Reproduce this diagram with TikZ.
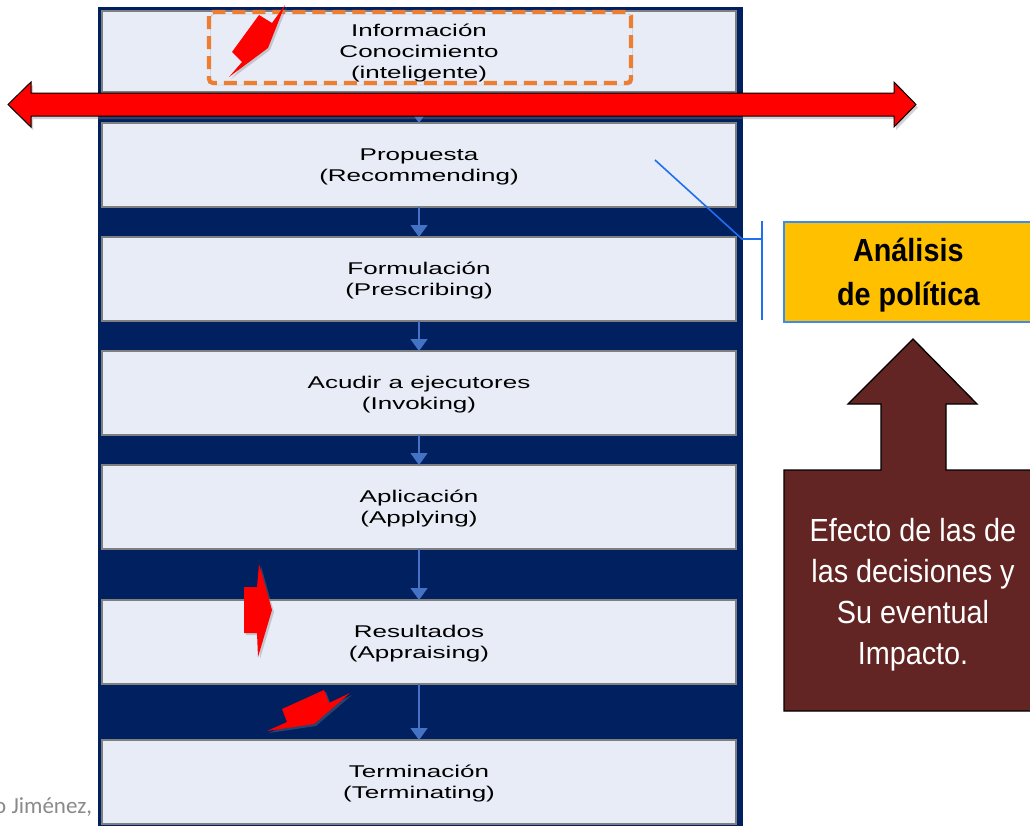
\documentclass[tikz,border=0pt]{standalone}
\usepackage{fontspec}
\setmainfont{Liberation Sans}
\newfontfamily\boxfont[FakeStretch=1.53]{Liberation Sans}
\newfontfamily\narrowfont[FakeStretch=0.9]{Liberation Sans}
\newfontfamily\footfont{Carlito}
\usetikzlibrary{arrows.meta,shadows}
\definecolor{navy}{HTML}{002060}
\definecolor{boxfill}{HTML}{E7ECF6}
\definecolor{boxgray}{HTML}{7F7F7F}
\definecolor{connblue}{HTML}{4472C4}
\definecolor{orangeD}{HTML}{ED7D31}
\definecolor{callblue}{HTML}{1F6FF0}
\definecolor{anaborder}{HTML}{3A8CF5}
\definecolor{gold}{HTML}{FFC000}
\definecolor{brownD}{HTML}{632523}
\definecolor{footgray}{HTML}{8A8A8A}
\begin{document}
\begin{tikzpicture}[x=1pt,y=-1pt,
  stage/.style={draw=boxgray, line width=1.2pt, fill=boxfill, minimum width=634pt,
    inner sep=0pt, outer sep=0pt, anchor=north west, align=center, text=black,
    text depth=0pt, font=\boxfont\fontsize{17}{21}\selectfont},
  conn/.style={draw=connblue, line width=1.3pt, -{Triangle[width=17pt,length=12pt]}},
  bolt/.style={fill=red, drop shadow={opacity=0.35, shadow xshift=2pt, shadow yshift=-2pt}},
  callout/.style={draw=callblue, line width=1.6pt},
  dashbox/.style={draw=orangeD, line width=4.2pt, dash pattern=on 13pt off 7pt, rounded corners=4pt}
]
\useasboundingbox (0,0) rectangle (1030,825);
\clip (0,0) rectangle (1030,825);
\fill[white] (0,0) rectangle (1030,825);

% footer text (cut by the column, as in the reference)
\node[anchor=base west, inner sep=0pt, text=footgray,
  font=\footfont\fontsize{23}{27}\selectfont] (auth) at (-6,813) {o Jiménez,};

% dark column
\fill[navy] (98,7) rectangle (743,830);

% stages
\node[stage, minimum height=81pt] (b1) at (102,11) {Información\\Conocimiento\\(inteligente)};
\node[stage, minimum height=84pt] (b2) at (102,123) {Propuesta\\(Recommending)};
\node[stage, minimum height=84pt] (b3) at (102,237) {Formulación\\(Prescribing)};
\node[stage, minimum height=84pt] (b4) at (102,351) {Acudir a ejecutores\\(Invoking)};
\node[stage, minimum height=84pt] (b5) at (102,465) {Aplicación\\(Applying)};
\node[stage, minimum height=84pt] (b6) at (102,600) {Resultados\\(Appraising)};
\node[stage, minimum height=84pt] (b7) at (102,740) {Terminación\\(Terminating)};

\draw[conn] (b1.south) -- (b2.north);
\draw[conn] (b2.south) -- (b3.north);
\draw[conn] (b3.south) -- (b4.north);
\draw[conn] (b4.south) -- (b5.north);
\draw[conn] (b5.south) -- (b6.north);
\draw[conn] (b6.south) -- (b7.north);

% orange dashed highlight
\draw[dashbox, drop shadow={opacity=0.25, shadow xshift=1.5pt, shadow yshift=-2pt, fill=none, draw=black}] (209,12) rectangle (631,83);

% top bolt
\fill[bolt] (285,5) -- (268,48) -- (229,77) -- (242,62) -- (232,52) -- (259,15) -- (272,23) -- cycle;

% red double arrow
\filldraw[fill=red, draw=black, line width=1pt,
  drop shadow={opacity=0.35, shadow xshift=2pt, shadow yshift=-3pt}]
  (8,104.5) -- (31,82) -- (31,93) -- (894,93) -- (894,82) -- (916,104.5)
  -- (894,127) -- (894,116) -- (31,116) -- (31,127) -- cycle;

% callout
\coordinate (cstart) at (655,160);
\coordinate (celbow) at (742,239);
\coordinate (cend) at (762,239);
\draw[callout] (cstart) -- (celbow) -- (cend);
\draw[callout] (762,221) -- (762,320);

% analysis box
\node[draw=anaborder, line width=1.6pt, fill=gold, minimum width=249pt, minimum height=100pt,
  anchor=north west, inner sep=0pt, align=center, text depth=0pt,
  font=\narrowfont\bfseries\fontsize{32}{44}\selectfont] (ana) at (783,221) {Análisis\\de política};

% brown up arrow box
\filldraw[fill=brownD, draw=black, line width=1.3pt]
  (913,339) -- (977,404) -- (946,404) -- (946,470) -- (1032,470) -- (1032,711)
  -- (784,711) -- (784,470) -- (881,470) -- (881,404) -- (848,404) -- cycle;
\node[align=center, text=white, inner sep=0pt,
  font=\narrowfont\fontsize{32}{41}\selectfont] (effect) at (913,595)
  {Efecto de las de\\las decisiones y\\Su eventual\\Impacto.};

% lower bolts
\fill[bolt] (244,587) -- (257,587) -- (259,564) -- (272,610) -- (258,657) -- (257,633) -- (244,633) -- cycle;
\fill[bolt] (324,690) -- (329,703) -- (350,693) -- (314,724) -- (267,731) -- (287,722) -- (282,709) -- cycle;
\end{tikzpicture}
\end{document}
